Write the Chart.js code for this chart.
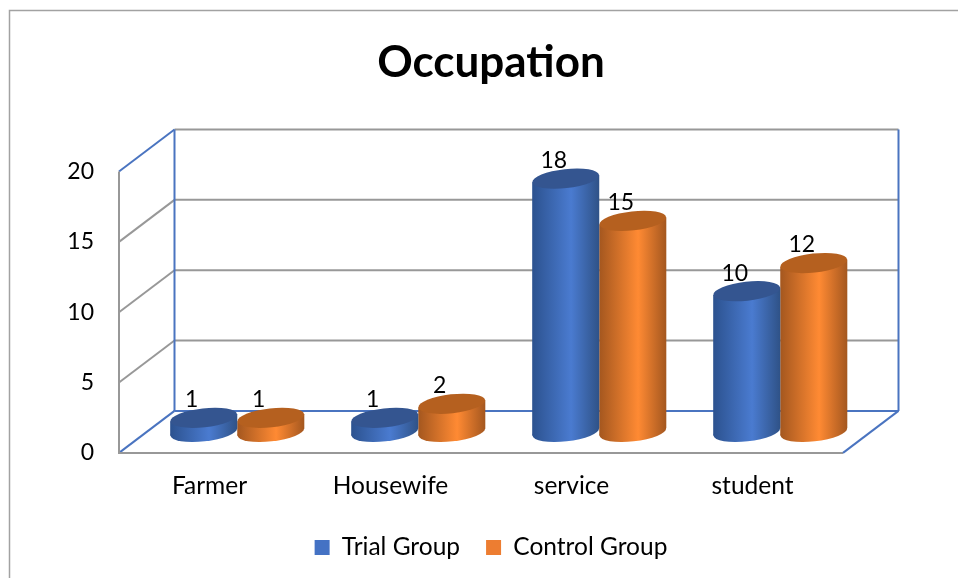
<!DOCTYPE html>
<html>
<head>
<meta charset="utf-8">
<title>Occupation</title>
<script src="https://cdn.jsdelivr.net/npm/chart.js@4"></script>
<style>
  html, body { margin: 0; padding: 0; background: #fff; }
  #wrap { width: 958px; height: 578px; }
</style>
</head>
<body>
<div id="wrap"><canvas id="myChart" width="958" height="578"></canvas></div>
<script>
const categories = ['Farmer', 'Housewife', 'service', 'student'];
const trialGroup = [1, 1, 18, 10];
const controlGroup = [1, 2, 15, 12];
const yTicks = [0, 5, 10, 15, 20];

const FONT = 'Lato';
const GREY = '#989898';
const BLUE = '#4a74c0';
// how far the back wall sits behind the front plane
const DEPTH_X = 55.5;
const DEPTH_Y = -42;
// bars stand half way into the floor
const BAR_DX = DEPTH_X / 2;
const BAR_DY = DEPTH_Y / 2;
const CAP_RY = 9.5;
const TILT = -0.11;

const legendColors = ['#4472c4', '#ed7d31'];
const capColors = ['#345590', '#b5601f'];
const sideColors = [
  ['#2c528f', '#4a7bd0', '#2f5287'],
  ['#a4571f', '#ff8a33', '#a4571f']
];

function halfWidth(chart) {
  let x = chart.scales.x;
  return x.width / categories.length * 0.741 / 4;
}

// horizontal shading so the bars look round
function sideGradient(c) {
  let chart = c.chart;
  // the legend asks for a colour before the scales are laid out
  if (c.dataIndex === undefined || !chart.scales.x) return legendColors[c.datasetIndex];
  let w = halfWidth(chart);
  let sign = c.datasetIndex === 0 ? -1 : 1;
  let center = chart.scales.x.getPixelForTick(c.dataIndex) + sign * w;
  if (!isFinite(center)) return legendColors[c.datasetIndex];
  let g = chart.ctx.createLinearGradient(center - w, 0, center + w, 0);
  let s = sideColors[c.datasetIndex];
  g.addColorStop(0, s[0]);
  g.addColorStop(0.58, s[1]);
  g.addColorStop(1, s[2]);
  return g;
}

const cylinders = {
  id: 'cylinders',
  beforeDraw(chart) {
    // picture frame, open on the right and at the bottom
    let ctx = chart.ctx;
    ctx.save();
    ctx.strokeStyle = '#a2a2a2';
    ctx.lineWidth = 1.5;
    ctx.beginPath();
    ctx.moveTo(9.5, chart.height);
    ctx.lineTo(9.5, 10.5);
    ctx.lineTo(chart.width, 10.5);
    ctx.stroke();
    ctx.restore();
  },
  beforeDatasetsDraw(chart) {
    let ctx = chart.ctx;
    let y = chart.scales.y;
    let left = chart.scales.x.left;
    let right = chart.scales.x.right;
    function line(color, x1, y1, x2, y2) {
      ctx.strokeStyle = color;
      ctx.beginPath();
      ctx.moveTo(x1, y1);
      ctx.lineTo(x2, y2);
      ctx.stroke();
    }
    ctx.save();
    ctx.lineWidth = 2;
    yTicks.forEach(t => {
      let py = y.getPixelForValue(t);
      let color = t === 0 || t === 20 ? BLUE : GREY;
      line(color, left, py, left + DEPTH_X, py + DEPTH_Y);
      line(t === 0 ? BLUE : GREY, left + DEPTH_X, py + DEPTH_Y, right + DEPTH_X, py + DEPTH_Y);
    });
    let top = y.getPixelForValue(20);
    let floor = y.getPixelForValue(0);
    line(GREY, left, top, left, floor);
    line(GREY, left - 1, floor, right, floor);
    line(BLUE, left + DEPTH_X, top + DEPTH_Y, left + DEPTH_X, floor + DEPTH_Y);
    line(BLUE, right + DEPTH_X, top + DEPTH_Y, right + DEPTH_X, floor + DEPTH_Y);
    line(BLUE, right, floor, right + DEPTH_X, floor + DEPTH_Y);
    ctx.restore();
  },
  beforeDatasetDraw(chart, args) {
    let ctx = chart.ctx;
    let w = halfWidth(chart);
    let rise = Math.sin(-TILT) * w;
    let base = chart.scales.y.getPixelForValue(0);
    ctx.save();
    ctx.translate(BAR_DX, BAR_DY);
    // round bottoms first, then the library's bars cut to the slanted outline
    args.meta.data.forEach(el => {
      ctx.fillStyle = el.options.backgroundColor;
      ctx.beginPath();
      ctx.ellipse(el.x, base, w, CAP_RY, TILT, 0, Math.PI * 2);
      ctx.fill();
    });
    ctx.beginPath();
    args.meta.data.forEach(el => {
      ctx.moveTo(el.x - w, el.y + rise);
      ctx.lineTo(el.x - w, base + rise);
      ctx.lineTo(el.x + w, base - rise);
      ctx.lineTo(el.x + w, el.y - rise);
      ctx.closePath();
    });
    ctx.clip();
  },
  afterDatasetDraw(chart, args) {
    let ctx = chart.ctx;
    let w = halfWidth(chart);
    ctx.restore();
    ctx.save();
    ctx.translate(BAR_DX, BAR_DY);
    ctx.fillStyle = capColors[args.index];
    args.meta.data.forEach(el => {
      ctx.beginPath();
      ctx.ellipse(el.x, el.y, w, CAP_RY, TILT, 0, Math.PI * 2);
      ctx.fill();
    });
    ctx.restore();
  },
  afterDatasetsDraw(chart) {
    let ctx = chart.ctx;
    ctx.save();
    ctx.font = '23px ' + FONT;
    ctx.fillStyle = '#000';
    ctx.textAlign = 'center';
    ctx.textBaseline = 'middle';
    chart.data.datasets.forEach((ds, i) => {
      chart.getDatasetMeta(i).data.forEach((el, j) => {
        ctx.fillText(ds.data[j], el.x + BAR_DX - 12, el.y + BAR_DY - 18);
      });
    });
    ctx.restore();
  }
};

new Chart(document.getElementById('myChart'), {
  type: 'bar',
  data: {
    labels: categories,
    datasets: [
      { label: 'Trial Group', data: trialGroup },
      { label: 'Control Group', data: controlGroup }
    ]
  },
  options: {
    responsive: false,
    animation: false,
    layout: { padding: { left: 24, right: 0, top: 0, bottom: 8.3 } },
    datasets: {
      bar: {
        backgroundColor: sideGradient,
        borderWidth: 0,
        inflateAmount: 6,
        clip: false,
        barPercentage: 1,
        categoryPercentage: 0.741
      }
    },
    scales: {
      x: {
        grid: { display: false },
        border: { display: false },
        ticks: { color: '#000', font: { family: FONT, size: 24.5 }, padding: 10.5, maxRotation: 0, autoSkip: false },
        afterFit(scale) { scale.height = 56.3; }
      },
      y: {
        min: 0,
        max: 20,
        grid: { display: false },
        border: { display: false },
        ticks: { color: '#000', font: { family: FONT, size: 23 }, padding: 17, stepSize: 5 },
        afterFit(scale) { scale.width = 95; }
      },
      pad: {
        axis: 'y',
        position: 'right',
        grid: { display: false },
        border: { display: false },
        ticks: { display: false },
        afterFit(scale) { scale.width = 115; }
      }
    },
    plugins: {
      colors: { enabled: false },
      title: {
        display: true,
        text: 'Occupation',
        color: '#000',
        font: { family: FONT, size: 44, weight: 'bold' },
        padding: { top: 36, bottom: 82.7 }
      },
      legend: {
        position: 'bottom',
        labels: {
          color: '#000',
          font: { family: FONT, size: 24.5 },
          boxWidth: 15,
          boxHeight: 15,
          padding: 26,
          generateLabels(chart) {
            return Chart.defaults.plugins.legend.labels.generateLabels(chart).map((item, i) => {
              item.fillStyle = legendColors[i];
              item.lineWidth = 0;
              return item;
            });
          }
        }
      },
      tooltip: { enabled: false }
    }
  },
  plugins: [cylinders]
});
</script>
</body>
</html>
